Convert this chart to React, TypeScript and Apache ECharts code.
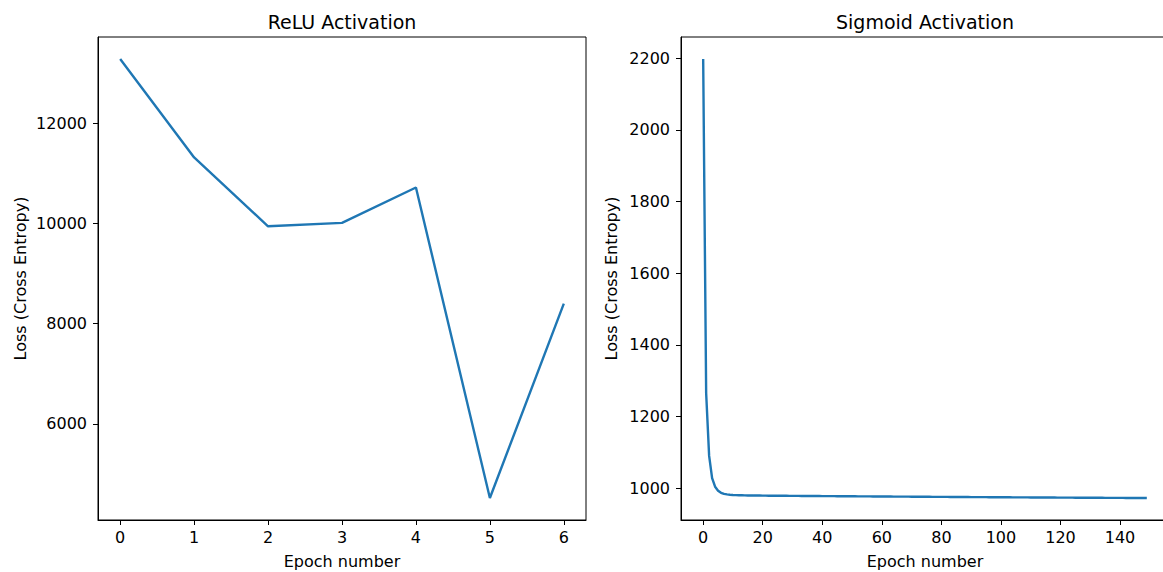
import React, { useEffect, useRef } from "react";
import * as echarts from "echarts";

const titles = ["ReLU Activation", "Sigmoid Activation"];
const xAxisLabel = "Epoch number";
const yAxisLabel = "Loss (Cross Entropy)";

const reluLoss = [13286, 11320, 9946, 10013, 10720, 4520, 8400];

const sigmoidLoss = [
  2198, 1265, 1090, 1028, 1004, 993, 987, 984, 982.5, 981.5,
  981.0, 980.6, 980.3, 980.1, 979.9, 979.7, 979.6, 979.5, 979.4, 979.3,
  979.2, 979.1, 979.0, 978.9, 978.9, 978.8, 978.7, 978.7, 978.6, 978.5,
  978.5, 978.4, 978.4, 978.3, 978.2, 978.2, 978.1, 978.1, 978.0, 978.0,
  977.9, 977.8, 977.8, 977.7, 977.7, 977.6, 977.6, 977.5, 977.4, 977.4,
  977.3, 977.3, 977.2, 977.2, 977.1, 977.0, 977.0, 976.9, 976.9, 976.8,
  976.8, 976.7, 976.7, 976.6, 976.5, 976.5, 976.4, 976.4, 976.3, 976.3,
  976.2, 976.2, 976.1, 976.0, 976.0, 975.9, 975.9, 975.8, 975.8, 975.7,
  975.7, 975.6, 975.6, 975.5, 975.5, 975.4, 975.3, 975.3, 975.2, 975.2,
  975.1, 975.1, 975.0, 975.0, 974.9, 974.9, 974.8, 974.8, 974.7, 974.7,
  974.6, 974.6, 974.5, 974.5, 974.4, 974.4, 974.3, 974.3, 974.2, 974.2,
  974.1, 974.1, 974.0, 974.0, 973.9, 973.9, 973.8, 973.8, 973.8, 973.7,
  973.7, 973.6, 973.6, 973.5, 973.5, 973.4, 973.4, 973.4, 973.3, 973.3,
  973.2, 973.2, 973.1, 973.1, 973.1, 973.0, 973.0, 972.9, 972.9, 972.8,
  972.8, 972.8, 972.7, 972.7, 972.6, 972.6, 972.6, 972.5, 972.5, 972.4,
];

const reluXTicks = [0, 1, 2, 3, 4, 5, 6];
const reluYTicks = [6000, 8000, 10000, 12000];
const sigmoidXTicks = [0, 20, 40, 60, 80, 100, 120, 140];
const sigmoidYTicks = [1000, 1200, 1400, 1600, 1800, 2000, 2200];

const FONT = "DejaVu Sans";
const LINE_COLOR = "#1f77b4";

function padded(values: number[]): [number, number] {
  const lo = Math.min(...values);
  const hi = Math.max(...values);
  const m = (hi - lo) * 0.05;
  return [lo - m, hi + m];
}

function makeAxis(
  kind: "x" | "y",
  gridIndex: number,
  extent: [number, number],
  ticks: number[],
  nameGap: number
) {
  return {
    type: "value",
    gridIndex,
    min: extent[0],
    max: extent[1],
    name: kind === "x" ? xAxisLabel : yAxisLabel,
    nameLocation: "middle",
    nameGap,
    nameTextStyle: { fontFamily: FONT, fontSize: 16, color: "#000" },
    axisLine: { show: true, onZero: false, lineStyle: { color: "#000", width: 1 } },
    axisTick: {
      show: true,
      length: 5,
      inside: false,
      customValues: ticks,
      lineStyle: { color: "#000", width: 1 },
    },
    axisLabel: {
      show: true,
      customValues: ticks,
      formatter: (v: number) => String(v),
      fontFamily: FONT,
      fontSize: 16,
      color: "#000",
      margin: kind === "x" ? 9 : 11,
    },
    splitLine: { show: false },
  };
}

export default function App() {
  const ref = useRef<HTMLDivElement>(null);

  useEffect(() => {
    if (!ref.current) return;
    const chart = echarts.init(ref.current, undefined, { renderer: "svg" });

    const reluX = reluLoss.map((_, i) => i);
    const sigX = sigmoidLoss.map((_, i) => i);

    const option = {
      animation: false,
      backgroundColor: "#fff",
      title: [
        {
          text: titles[0],
          left: 342,
          top: 12,
          textAlign: "center",
          padding: 0,
          textStyle: { fontFamily: FONT, fontSize: 19, fontWeight: "normal", color: "#000" },
        },
        {
          text: titles[1],
          left: 925,
          top: 12,
          textAlign: "center",
          padding: 0,
          textStyle: { fontFamily: FONT, fontSize: 19, fontWeight: "normal", color: "#000" },
        },
      ],
      grid: [
        { left: 98, top: 37, width: 488, height: 483, show: true, borderColor: "#000", borderWidth: 1, backgroundColor: "transparent", containLabel: false, outerBoundsMode: "none" },
        { left: 681, top: 37, width: 488, height: 483, show: true, borderColor: "#000", borderWidth: 1, backgroundColor: "transparent", containLabel: false, outerBoundsMode: "none" },
      ],
      xAxis: [
        makeAxis("x", 0, padded(reluX), reluXTicks, 33),
        makeAxis("x", 1, padded(sigX), sigmoidXTicks, 33),
      ],
      yAxis: [
        makeAxis("y", 0, padded(reluLoss), reluYTicks, 70),
        makeAxis("y", 1, padded(sigmoidLoss), sigmoidYTicks, 62),
      ],
      series: [
        {
          type: "line",
          xAxisIndex: 0,
          yAxisIndex: 0,
          data: reluLoss.map((v, i) => [reluX[i], v]),
          showSymbol: false,
          symbol: "none",
          lineStyle: { color: LINE_COLOR, width: 2.4 },
          emphasis: { disabled: true },
        },
        {
          type: "line",
          xAxisIndex: 1,
          yAxisIndex: 1,
          data: sigmoidLoss.map((v, i) => [sigX[i], v]),
          showSymbol: false,
          symbol: "none",
          lineStyle: { color: LINE_COLOR, width: 2.4 },
          emphasis: { disabled: true },
        },
      ],
    };

    chart.setOption(option as any);
    return () => chart.dispose();
  }, []);

  return (
    <div
      ref={ref}
      style={{ position: "absolute", left: 0, top: 0, width: 1163, height: 572 }}
    />
  );
}
